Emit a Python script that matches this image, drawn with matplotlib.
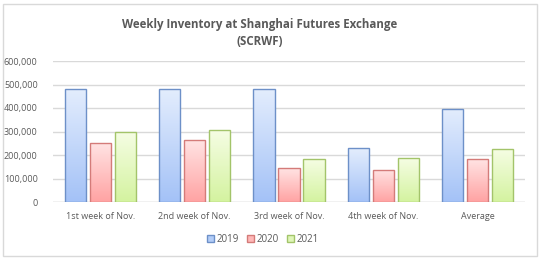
import matplotlib
matplotlib.use("Agg")
import matplotlib.pyplot as plt
import numpy as np
from matplotlib.patches import Rectangle
from matplotlib.colors import LinearSegmentedColormap
from matplotlib.ticker import FuncFormatter

categories = ["1st week of Nov.", "2nd week of Nov.", "3rd week of Nov.", "4th week of Nov.", "Average"]
series_names = ["2019", "2020", "2021"]
v2019 = [482000, 481000, 481000, 228000, 396000]
v2020 = [250000, 262000, 144000, 137000, 181000]
v2021 = [297000, 306000, 181000, 187000, 225000]
yticks = [0, 100000, 200000, 300000, 400000, 500000, 600000]

values = [v2019, v2020, v2021]
grad = [("#a4c2f7", "#e3edfd"), ("#ffa3a3", "#ffe3e3"), ("#d4f3a0", "#f5fde3")]
edges = ["#6d90c8", "#d47b79", "#a3c46a"]
legend_face = ["#b3cdf8", "#ffb8b8", "#dff6b8"]

plt.rcParams['font.family'] = ['Open Sans', 'DejaVu Sans']
fig = plt.figure(figsize=(5.41, 2.60), dpi=100)
fig.patches.append(Rectangle((3/541, 4/260), 534/541, 252/260, transform=fig.transFigure,
                             fill=False, edgecolor="#d9d9d9", linewidth=1))
ax = fig.add_axes([53/541, 1 - 202/260, 472/541, 141/260])

x = np.arange(len(categories))
w = 0.225
gap = 0.04
offsets = [-(w + gap), 0, (w + gap)]
for i, vals in enumerate(values):
    cmap = LinearSegmentedColormap.from_list("g%d" % i, grad[i])
    for j, v in enumerate(vals):
        x0 = x[j] + offsets[i] - w / 2
        bar = Rectangle((x0, 0), w, v, facecolor="none", edgecolor=edges[i], linewidth=1.0, zorder=3)
        ax.add_patch(bar)
        img = ax.imshow(np.linspace(0, 1, 64).reshape(-1, 1), cmap=cmap, origin="lower",
                        extent=[x0, x0 + w, 0, v], aspect="auto", zorder=2)
        img.set_clip_path(bar)

ax.set_xlim(-0.5, len(categories) - 0.5)
ax.set_ylim(0, 600000)
ax.set_yticks(yticks)
ax.yaxis.set_major_formatter(FuncFormatter(lambda v, p: f"{int(v):,}"))
ax.set_xticks(x)
ax.set_xticklabels(categories)
ax.grid(axis="y", color="#d9d9d9", linewidth=1, zorder=0)
ax.set_axisbelow(True)
for s in ax.spines.values():
    s.set_visible(False)
ax.axhline(0, color="#d9d9d9", linewidth=1, zorder=1)
ax.tick_params(axis="both", length=0, labelsize=6.5, labelcolor="#595959")
ax.tick_params(axis="y", pad=11)
ax.tick_params(axis="x", pad=7)

handles = [Rectangle((0, 0), 1, 1, facecolor=legend_face[i], edgecolor=edges[i], linewidth=1)
           for i in range(3)]
fig.legend(handles, series_names, loc="center", bbox_to_anchor=(263/541, 1 - 239/260),
           ncol=3, frameon=False, fontsize=7, handlelength=0.75, handleheight=0.75,
           handletextpad=0.25, columnspacing=0.8, labelcolor="#595959")

fig.text(260/541, 1 - 33/260, "Weekly Inventory at Shanghai Futures Exchange\n(SCRWF)",
         ha="center", va="center", fontsize=8.3, fontweight="bold", color="#595959", linespacing=1.45)

fig.savefig("out.png", dpi=100)
